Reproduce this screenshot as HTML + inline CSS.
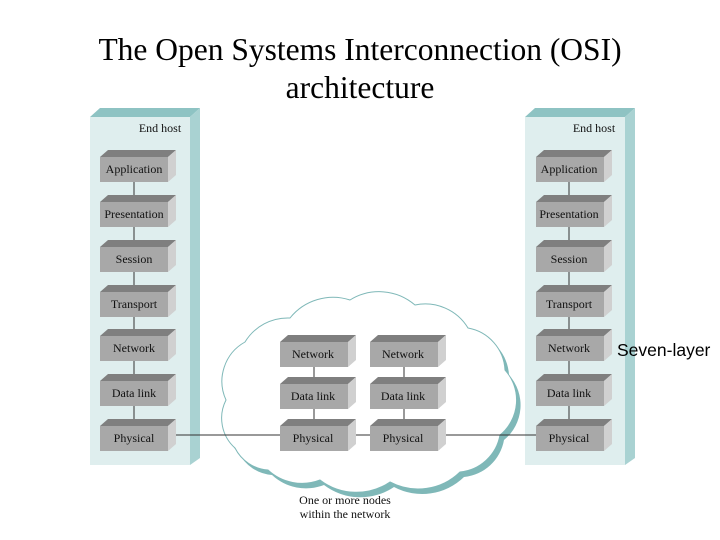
<!DOCTYPE html>
<html><head><meta charset="utf-8"><style>
html,body{margin:0;padding:0;background:#fff;}
svg{display:block;}
.t{font-family:"Liberation Serif",serif;font-size:12px;fill:#111;text-anchor:middle;}
</style></head><body>
<svg width="720" height="540" viewBox="0 0 720 540" xmlns="http://www.w3.org/2000/svg">
<defs>
<g id="box">
<polygon points="0,0 8,-7 76,-7 68,0" fill="#7f7f7f"/>
<polygon points="68,0 76,-7 76,18 68,25" fill="#d0d0d0"/>
<rect x="0" y="0" width="68" height="25" fill="#a8a8a8"/>
</g>
<g id="host">
<polygon points="0,9 10,0 110,0 100,9" fill="#8ec3c3"/>
<polygon points="100,9 110,0 110,350 100,357" fill="#a9d2d2"/>
<rect x="0" y="9" width="100" height="348" fill="#dfeeee"/>
</g>
<path id="cloud" d="M235,448 A40,40 0 0 1 226,400 A45,45 0 0 1 245,342 A50,50 0 0 1 290,318 A55,55 0 0 1 350,300 A55,55 0 0 1 415,305 A50,50 0 0 1 468,328 A45,45 0 0 1 505,370 A45,45 0 0 1 500,435 A45,45 0 0 1 460,472 A60,60 0 0 1 390,482 A60,60 0 0 1 320,480 A50,50 0 0 1 268,470 A40,40 0 0 1 235,448 Z"/>
</defs>

<text x="360" y="60" font-family="Liberation Serif,serif" font-size="31.5" text-anchor="middle" fill="#000">The Open Systems Interconnection (OSI)</text>
<text x="360" y="98" font-family="Liberation Serif,serif" font-size="31.5" text-anchor="middle" fill="#000">architecture</text>

<use href="#host" x="90" y="108"/>
<use href="#host" x="525" y="108"/>
<text x="160" y="132" class="t">End host</text>
<text x="594" y="132" class="t">End host</text>

<use href="#cloud" fill="#7fb8b8" transform="translate(4,5)"/>
<use href="#cloud" fill="#fff" stroke="#7fb8b8" stroke-width="1"/>

<g stroke="#333" stroke-width="1">
<line x1="134" y1="181" x2="134" y2="426"/>
<line x1="569" y1="181" x2="569" y2="426"/>
<line x1="314" y1="366" x2="314" y2="426"/>
<line x1="404" y1="366" x2="404" y2="426"/>
<line x1="176" y1="435" x2="280" y2="435"/>
<line x1="356" y1="435" x2="370" y2="435"/>
<line x1="446" y1="435" x2="536" y2="435"/>
</g>

<use href="#box" x="100" y="157"/><use href="#box" x="100" y="202"/><use href="#box" x="100" y="247"/><use href="#box" x="100" y="292"/><use href="#box" x="100" y="336"/><use href="#box" x="100" y="381"/><use href="#box" x="100" y="426"/>
<use href="#box" x="536" y="157"/><use href="#box" x="536" y="202"/><use href="#box" x="536" y="247"/><use href="#box" x="536" y="292"/><use href="#box" x="536" y="336"/><use href="#box" x="536" y="381"/><use href="#box" x="536" y="426"/>
<use href="#box" x="280" y="342"/><use href="#box" x="280" y="384"/><use href="#box" x="280" y="426"/>
<use href="#box" x="370" y="342"/><use href="#box" x="370" y="384"/><use href="#box" x="370" y="426"/>

<g>
<text x="134" y="173" class="t">Application</text>
<text x="134" y="218" class="t">Presentation</text>
<text x="134" y="263" class="t">Session</text>
<text x="134" y="308" class="t">Transport</text>
<text x="134" y="352" class="t">Network</text>
<text x="134" y="397" class="t">Data link</text>
<text x="134" y="442" class="t">Physical</text>
<text x="569" y="173" class="t">Application</text>
<text x="569" y="218" class="t">Presentation</text>
<text x="569" y="263" class="t">Session</text>
<text x="569" y="308" class="t">Transport</text>
<text x="569" y="352" class="t">Network</text>
<text x="569" y="397" class="t">Data link</text>
<text x="569" y="442" class="t">Physical</text>
<text x="313" y="358" class="t">Network</text>
<text x="313" y="400" class="t">Data link</text>
<text x="313" y="442" class="t">Physical</text>
<text x="403" y="358" class="t">Network</text>
<text x="403" y="400" class="t">Data link</text>
<text x="403" y="442" class="t">Physical</text>
<text x="345" y="504" class="t">One or more nodes</text>
<text x="345" y="518" class="t">within the network</text>
</g>
<text x="617" y="356" font-family="Liberation Sans,sans-serif" font-size="17.5" fill="#000">Seven-layer</text>
</svg>
</body></html>
